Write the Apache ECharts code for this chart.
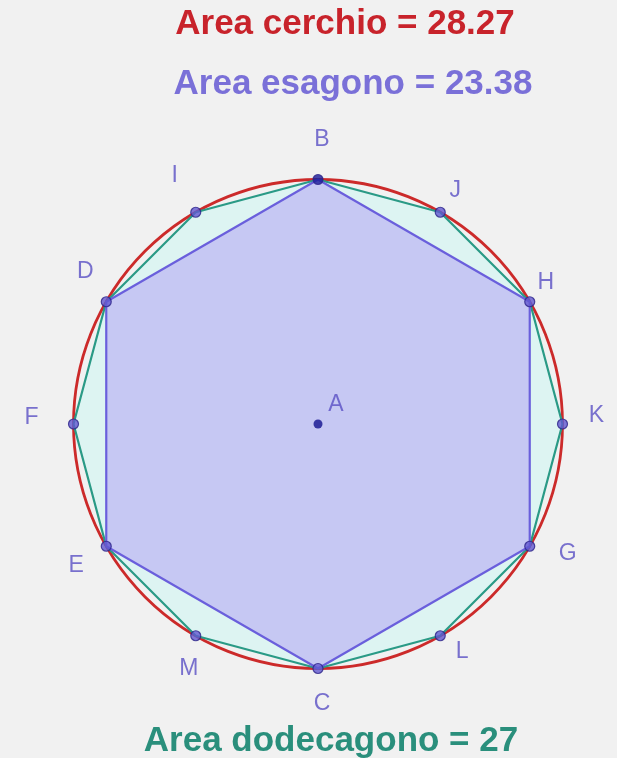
<!DOCTYPE html>
<html><head><meta charset="utf-8">
<script src="https://cdn.jsdelivr.net/npm/echarts@6/dist/echarts.min.js"></script>
<style>html,body{margin:0;padding:0;background:#f1f1f1;}#c{width:617px;height:758px;}</style>
</head><body><div id="c"></div>
<script>
// data
var radius = 3;
var hexNames = ['H','B','D','E','C','G'];
var hexAngles = [30, 90, 150, 210, 270, 330];
var dodNames = ['K','H','J','B','I','D','F','E','M','C','L','G'];
var dodAngles = [0, 30, 60, 90, 120, 150, 180, 210, 240, 270, 300, 330];
var titles = ['Area cerchio = 28.27', 'Area esagono = 23.38', 'Area dodecagono = 27'];

var labelOffsets = {A:[18,-19],B:[4,-40],C:[4,35],D:[-21,-30],E:[-30,19],F:[-42,-6],G:[38,7],H:[16,-19],I:[-21,-37],J:[15,-22],K:[34,-8],L:[22,16],M:[-7,33]};

function pt(a){ var r = a*Math.PI/180; return [radius*Math.cos(r), radius*Math.sin(r)]; }
var hexPts = hexAngles.map(pt);
var dodPts = dodAngles.map(pt);

function polySeries(pts, fill, stroke, w, z){
  return {type:'custom', coordinateSystem:'cartesian2d', z:z, silent:true,
    data:[[0,0]],
    renderItem:function(params, api){
      return {type:'polygon', shape:{points:pts.map(function(p){return api.coord(p);})},
        style:{fill:fill, stroke:stroke, lineWidth:w, lineJoin:'round'}};
    }};
}

var pointData = [];
dodNames.forEach(function(n,i){
  var p = dodPts[i];
  pointData.push({name:n, value:p,
    itemStyle:{color: n==='B' ? '#1a1a99' : '#6258d0', borderColor:'#2a2288', borderWidth:1.2},
    label:{offset:labelOffsets[n]}});
});
pointData.push({name:'A', value:[0,0], itemStyle:{color:'#12128f', borderColor:'#12128f', borderWidth:0}, symbolSize:9, label:{offset:labelOffsets['A']}});

var FF = 'Liberation Sans, Arial, Helvetica, sans-serif';
var chart = echarts.init(document.getElementById('c'), null, {renderer:'canvas'});
var unit = 81.5, cx = 318, cy = 424, half = 3.5;
chart.setOption({
  backgroundColor:'#f1f1f1',
  animation:false,
  title:[
    {text:titles[0], left:340, top:2, textAlign:'center', textStyle:{fontFamily:FF, fontWeight:'bold', fontSize:35, color:'#c8232b'}},
    {text:titles[1], left:348, top:62, textAlign:'center', textStyle:{fontFamily:FF, fontWeight:'bold', fontSize:35, color:'#7a70d8'}},
    {text:titles[2], left:326, top:719, textAlign:'center', textStyle:{fontFamily:FF, fontWeight:'bold', fontSize:35, color:'#2a8f7c'}}
  ],
  grid:{left:cx-half*unit, top:cy-half*unit, width:2*half*unit, height:2*half*unit},
  xAxis:{type:'value', min:-half, max:half, show:false},
  yAxis:{type:'value', min:-half, max:half, show:false},
  series:[
    {type:'custom', coordinateSystem:'cartesian2d', z:1, silent:true, data:[[0,0]],
      renderItem:function(params, api){
        var c = api.coord([0,0]);
        var r = api.size([radius, radius])[0];
        return {type:'circle', shape:{cx:c[0], cy:c[1], r:r}, style:{fill:'rgba(0,0,0,0)', stroke:'#cc2a2a', lineWidth:2.8}};
      }},
    polySeries(dodPts, '#ddf4f2', '#2a9a86', 2.2, 2),
    polySeries(hexPts, '#c6c8f3', '#6a5fdc', 2.2, 3),
    {type:'scatter', z:10, symbol:'circle', symbolSize:10, data:pointData,
      label:{show:true, position:'inside', formatter:'{b}', fontFamily:FF, fontSize:23, color:'#5a50c4'}}
  ]
});
</script></body></html>
